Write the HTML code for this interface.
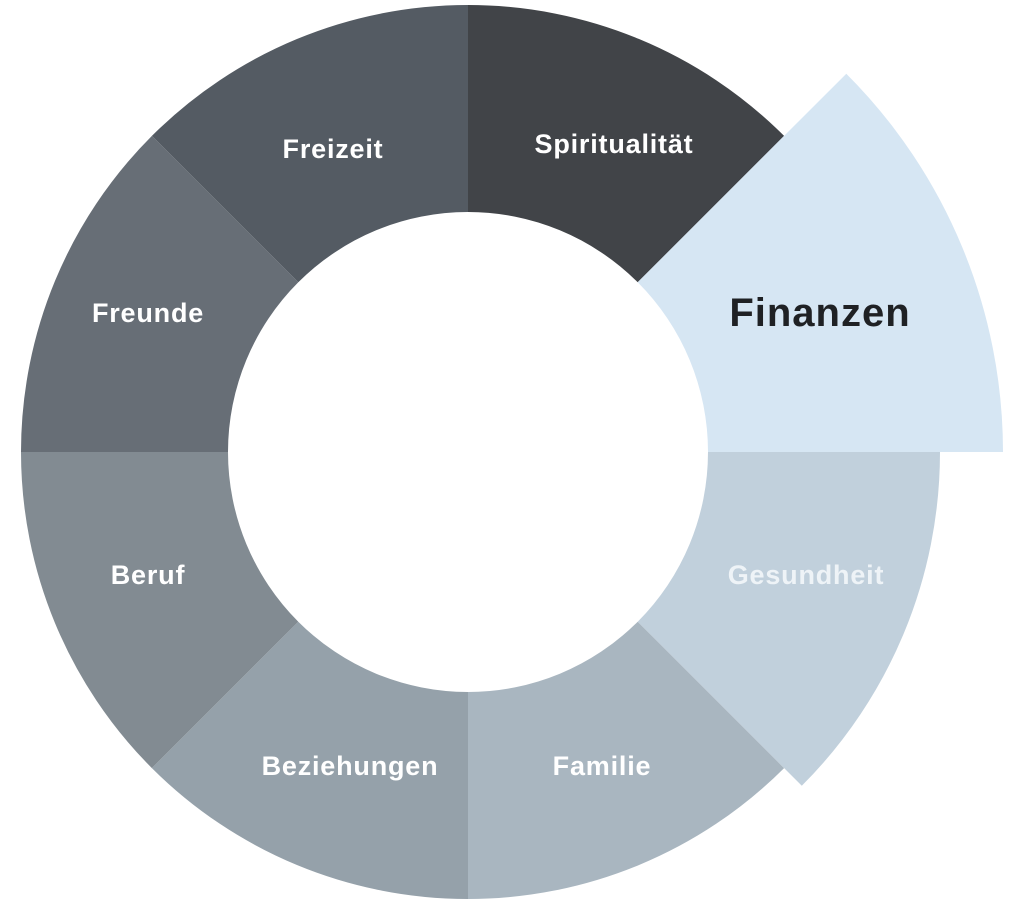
<!DOCTYPE html>
<html><head><meta charset="utf-8"><style>
html,body{margin:0;padding:0;background:#fff;}
svg{display:block;}
text{font-family:"Liberation Sans",sans-serif;font-weight:bold;text-anchor:middle;dominant-baseline:central;}
</style></head><body>
<svg width="1024" height="903" viewBox="0 0 1024 903">
<rect width="1024" height="903" fill="#fff"/>
<path d="M468,5 A447,447 0 0 1 784.1,135.9 L637.7,282.3 A240,240 0 0 0 468,212 Z" fill="#414448"/>
<path d="M846.3,73.7 A535,535 0 0 1 1003,452 L708,452 A240,240 0 0 0 637.7,282.3 Z" fill="#d6e6f3"/>
<path d="M940,452 A472,472 0 0 1 801.8,785.8 L637.7,621.7 A240,240 0 0 0 708,452 Z" fill="#c1d0dc"/>
<path d="M784.1,768.1 A447,447 0 0 1 468,899 L468,692 A240,240 0 0 0 637.7,621.7 Z" fill="#a9b6c0"/>
<path d="M468,899 A447,447 0 0 1 151.9,768.1 L298.3,621.7 A240,240 0 0 0 468,692 Z" fill="#95a1aa"/>
<path d="M151.9,768.1 A447,447 0 0 1 21,452 L228,452 A240,240 0 0 0 298.3,621.7 Z" fill="#828b92"/>
<path d="M21,452 A447,447 0 0 1 151.9,135.9 L298.3,282.3 A240,240 0 0 0 228,452 Z" fill="#676e76"/>
<path d="M151.9,135.9 A447,447 0 0 1 468,5 L468,212 A240,240 0 0 0 298.3,282.3 Z" fill="#545b63"/>
<g font-size="27" fill="#fff" letter-spacing="0.8">
<text x="614" y="144">Spiritualität</text>
<text x="333" y="149">Freizeit</text>
<text x="148" y="313">Freunde</text>
<text x="148" y="575">Beruf</text>
<text x="350" y="766">Beziehungen</text>
<text x="602" y="766">Familie</text>
<text x="806" y="575" fill="#eef3f7">Gesundheit</text>
</g>
<text x="820" y="313" font-size="40" letter-spacing="1" fill="#1f2124">Finanzen</text>
</svg>
</body></html>
